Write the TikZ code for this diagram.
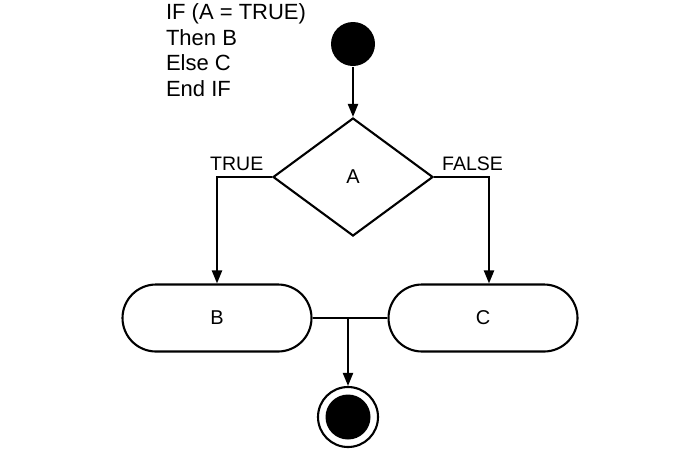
\documentclass[tikz,border=0pt]{standalone}
\usepackage{fontspec}
\setmainfont{Liberation Sans}
\usetikzlibrary{shapes.geometric,arrows.meta}

\begin{document}
\begin{tikzpicture}[x=1pt,y=-1pt,line width=2.1pt,
  >={Triangle[length=13pt,width=10pt]},
  every node/.style={font=\fontsize{20}{24}\selectfont},
  blob/.style={circle,fill=black,inner sep=0pt},
  act/.style={draw,rectangle,rounded corners=33.5pt,minimum width=189pt,minimum height=67pt,inner sep=0pt},
  choice/.style={draw,diamond,minimum width=160pt,minimum height=118pt,inner sep=0pt,aspect=1.36},
  guard/.style={font=\fontsize{19.5}{24}\selectfont,above=2pt}]
\useasboundingbox (0,0) rectangle (700,451);
\node[anchor=north west,align=left,inner sep=0pt,font=\fontsize{22}{25.5}\selectfont] (code) at (165,3) {IF (A = TRUE)\\Then B\\Else C\\End IF};
\node[blob,minimum size=44pt] (start) at (353,44) {};
\node[choice] (A) at (353,177) {A};
\node[act] (B) at (217,318) {B};
\node[act] (C) at (483,318) {C};
\node[draw,circle,fill=white,minimum size=60pt,inner sep=0pt] (finish) at (348,417) {};
\node[blob,minimum size=45pt] (finishdot) at (finish.center) {};
\coordinate (join) at (348,318);
\draw[->] (start) -- (A.north);
\draw[->] (A.west) -| node[guard,pos=0.32]{TRUE} (B.north);
\draw[->] (A.east) -| node[guard,pos=0.35]{FALSE} ([xshift=6pt]C.north);
\draw (B.east) -- (C.west);
\draw[->] (join) -- (finish.north);
\end{tikzpicture}
\end{document}
